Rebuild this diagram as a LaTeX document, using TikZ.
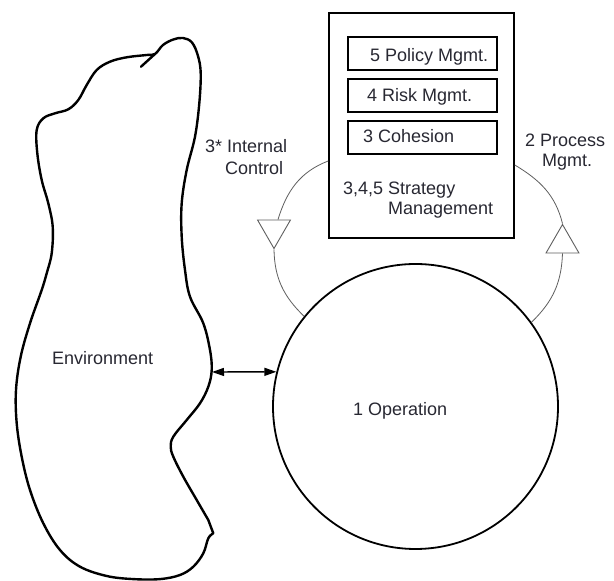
\documentclass[tikz,border=0pt]{standalone}
\usepackage{fontspec}
\setmainfont{Liberation Sans}
\usetikzlibrary{arrows.meta,shapes.geometric}
\definecolor{txt}{RGB}{40,40,50}
\definecolor{fbc}{RGB}{95,95,95}
\begin{document}
\begin{tikzpicture}[x=1pt,y=1pt,
  lbl/.style={font=\fontsize{18}{20}\selectfont, text=txt, inner sep=0pt, anchor=base west},
  sbox/.style={draw, line width=1.6pt, minimum width=185pt, minimum height=225pt, inner sep=0pt},
  ibox/.style={draw, line width=2.8pt, minimum width=149pt, minimum height=33pt, inner sep=0pt},
  opcirc/.style={circle, draw, line width=1.8pt, minimum size=285pt, inner sep=0pt},
  fb/.style={draw=fbc, line width=0.8pt},
  tri/.style={regular polygon, regular polygon sides=3, draw=fbc, fill=white, line width=0.9pt, minimum size=38pt, inner sep=0pt},
  blob/.style={line width=2.4pt, line join=round},
  link/.style={line width=1.4pt, {Triangle[length=12pt,width=8pt]}-{Triangle[length=12pt,width=8pt]}}
]
\useasboundingbox (0,0) rectangle (614,581);
\fill[white] (0,0) rectangle (614,581);

% Strategy box
\node[sbox] (strat) at (421.5,455.5) {};
\node[ibox] (p5) at (422.5,527.5) {};
\node[ibox] (p4) at (422.5,485.5) {};
\node[ibox] (p3) at (422.5,443.5) {};
\node[lbl] (t5) at (370,519) {5 Policy Mgmt.};
\node[lbl] (t4) at (367,479) {4 Risk Mgmt.};
\node[lbl] (t3) at (363,438) {3 Cohesion};
\node[lbl] (ts1) at (343,386) {3,4,5 Strategy};
\node[lbl] (ts2) at (388,366) {Management};

% Operation
\node[opcirc] (op) at (415.5,174.5) {};
\node[lbl] (t1) at (353,165) {1 Operation};

% Triangles
\node[tri, shape border rotate=180] (tl) at (274,351.5) {};
\node[tri] (tr) at (562.5,337.5) {};

% Feedback arcs
\coordinate (ls) at (strat.west |- 0,420);
\coordinate (rs) at (strat.east |- 0,416);
\draw[fb] (ls) to[out=201,in=73] ([xshift=4pt]tl.90);
\draw[fb] (tl.270) to[out=271,in=136] (op.141.6);
\draw[fb] (rs) to[out=-31,in=104] (tr.90);
\draw[fb] (tr.270) to[out=268,in=44] (op.36.4);

% Labels of loops
\node[lbl] (ic1) at (205,428) {3* Internal};
\node[lbl] (ic2) at (225,406) {Control};
\node[lbl] (pm1) at (525,434) {2 Process};
\node[lbl] (pm2) at (542,414) {Mgmt.};

% Environment
\draw[blob] plot[smooth, tension=0.6] coordinates {
 (213.3,47.7) (208.3,42.7) (203.3,27.7) (193.3,14.3) (180,6) (160,1.9) (133.3,1.9)
 (106.7,5) (80,14.3) (60,31) (43.3,57.7) (30,91) (21.7,124.3) (16.7,157.7) (16,191)
 (20.7,224.3) (30,257.7) (41.7,291) (46.7,307.7) (51.7,327.7) (52.7,354.3) (48.3,377.7)
 (41.7,401) (37.3,427.7) (36.7,451) (43.3,462.7) (55,467.7) (68.3,471.7) (78.3,481)
 (86.7,496) (96.7,511) (110,519.3) (126.7,523.7) (146.7,526) (155,527) (163,536)
 (173.3,541.5) (183,543) (192,538.5) (198,525) (200.7,507.7) (199.3,477.7)
 (195,444.3) (186.7,411) (181.7,377.7) (181.7,344.3) (185,311) (190,284.3) (203.3,257.7)
 (210,231) (211.7,211) (208.3,194.3) (200,177.7) (186.7,161) (173.3,144.3) (170.7,134.3)
 (173.3,124.3) (183.3,104.3) (196.7,81) (208.3,61) } -- cycle;
\draw[blob, line cap=round] (155,527) -- (141,514.3);
\node[lbl] (env) at (52,216) {Environment};

% Environment <-> Operation
\coordinate (ea) at (212,209);
\draw[link] (ea) -- (op.166);
\end{tikzpicture}
\end{document}
